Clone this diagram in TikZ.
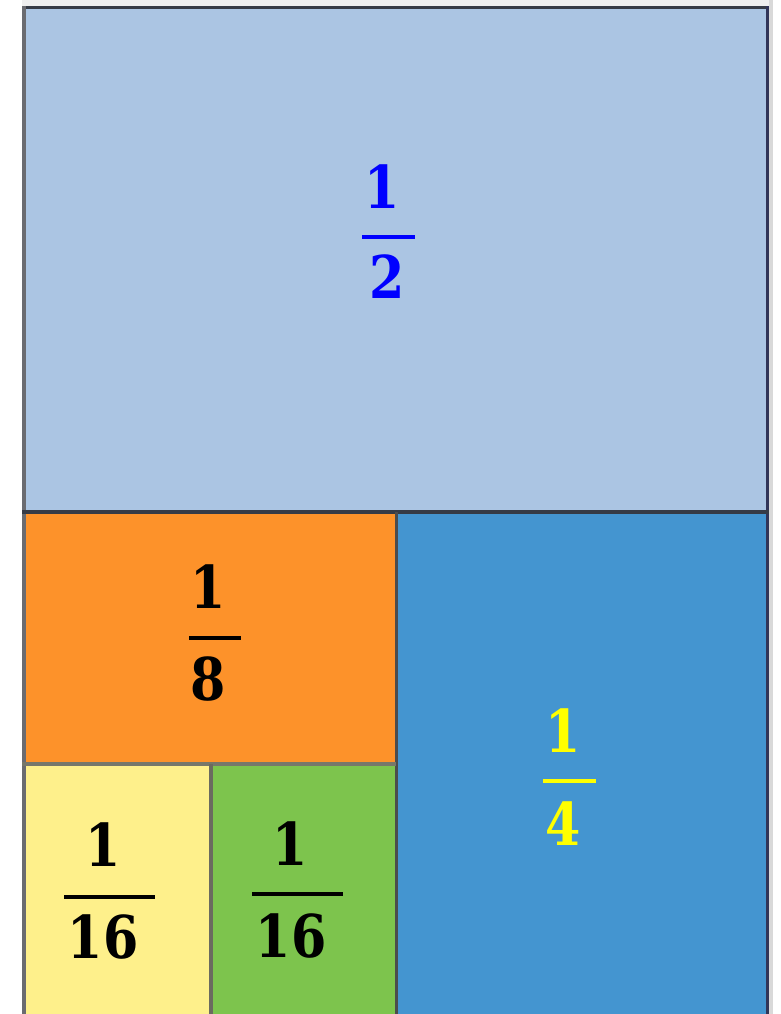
\documentclass[tikz,border=0pt]{standalone}
\usepackage{fontspec}
\newfontfamily\digitfont[FakeStretch=0.86]{DejaVu Serif}
\definecolor{halfc}{HTML}{ABC5E3}
\definecolor{eighthc}{HTML}{FD922A}
\definecolor{quarterc}{HTML}{4495D0}
\definecolor{sixta}{HTML}{FEF08B}
\definecolor{sixtb}{HTML}{7DC44D}
\definecolor{edgedark}{HTML}{363B46}
\definecolor{edgegray}{HTML}{6A6B70}
\definecolor{edgeolive}{HTML}{77776A}
\definecolor{stripgray}{HTML}{EFEFEF}
\definecolor{stripright}{HTML}{D9D9D9}
\definecolor{fracblue}{HTML}{0000FF}
\definecolor{fracyellow}{HTML}{FFFF00}
\tikzset{
  digit/.style={inner sep=0pt, anchor=base, font=\digitfont\fontsize{59}{59}\selectfont\bfseries},
  fracbar/.style={line width=4pt},
}
\begin{document}
\begin{tikzpicture}[x=1pt,y=-1pt]
\useasboundingbox (0,0) rectangle (780,1014);
\fill[white] (0,0) rectangle (780,1014);
% background strips
\fill[stripgray] (22,0) rectangle (770,7);
\fill[stripright] (769,0) rectangle (773,1014);
% regions
\fill[halfc] (24,8) rectangle (768,512);
\fill[eighthc] (24,512) rectangle (396,764);
\fill[quarterc] (396,512) rectangle (768,1014);
\fill[sixta] (24,764) rectangle (211,1014);
\fill[sixtb] (211,764) rectangle (396,1014);
% borders
\fill[edgedark] (22,6) rectangle (769,9.5);
\fill[edgegray] (22,6) rectangle (25.5,1014);
\fill[edgedark!90!blue] (765.5,6) rectangle (769,1014);
\fill[edgedark] (22,510) rectangle (769,513.5);
\fill[black!70] (394.5,512) rectangle (398,1014);
\fill[edgeolive] (22,762) rectangle (396,766);
\fill[edgeolive!90!black] (208.5,764) rectangle (212.5,1014);
% 1/2
\node[digit, text=fracblue] (hn) at (382,208) {1};
\coordinate (hbl) at (362,237);
\coordinate (hbr) at (415,237);
\draw[fracbar, fracblue] (hbl) -- (hbr);
\node[digit, text=fracblue] (hd) at (387,298) {2};
% 1/8
\node[digit, text=black] (en) at (208,608) {1};
\coordinate (ebl) at (189,637.5);
\coordinate (ebr) at (241,637.5);
\draw[fracbar, black] (ebl) -- (ebr);
\node[digit, text=black] (ed) at (208,700) {8};
% 1/4
\node[digit, text=fracyellow] (qn) at (563,752) {1};
\coordinate (qbl) at (543,780.5);
\coordinate (qbr) at (596,780.5);
\draw[fracbar, fracyellow] (qbl) -- (qbr);
\node[digit, text=fracyellow] (qd) at (563,845) {4};
% 1/16 yellow
\node[digit, text=black] (an) at (103,866) {1};
\coordinate (abl) at (64,896.5);
\coordinate (abr) at (155,896.5);
\draw[fracbar, black] (abl) -- (abr);
\node[digit, text=black] (ad) at (103,958) {16};
% 1/16 green
\node[digit, text=black] (bn) at (290,865) {1};
\coordinate (bbl) at (252,894);
\coordinate (bbr) at (343,894);
\draw[fracbar, black] (bbl) -- (bbr);
\node[digit, text=black] (bd) at (291,957) {16};
\end{tikzpicture}
\end{document}
